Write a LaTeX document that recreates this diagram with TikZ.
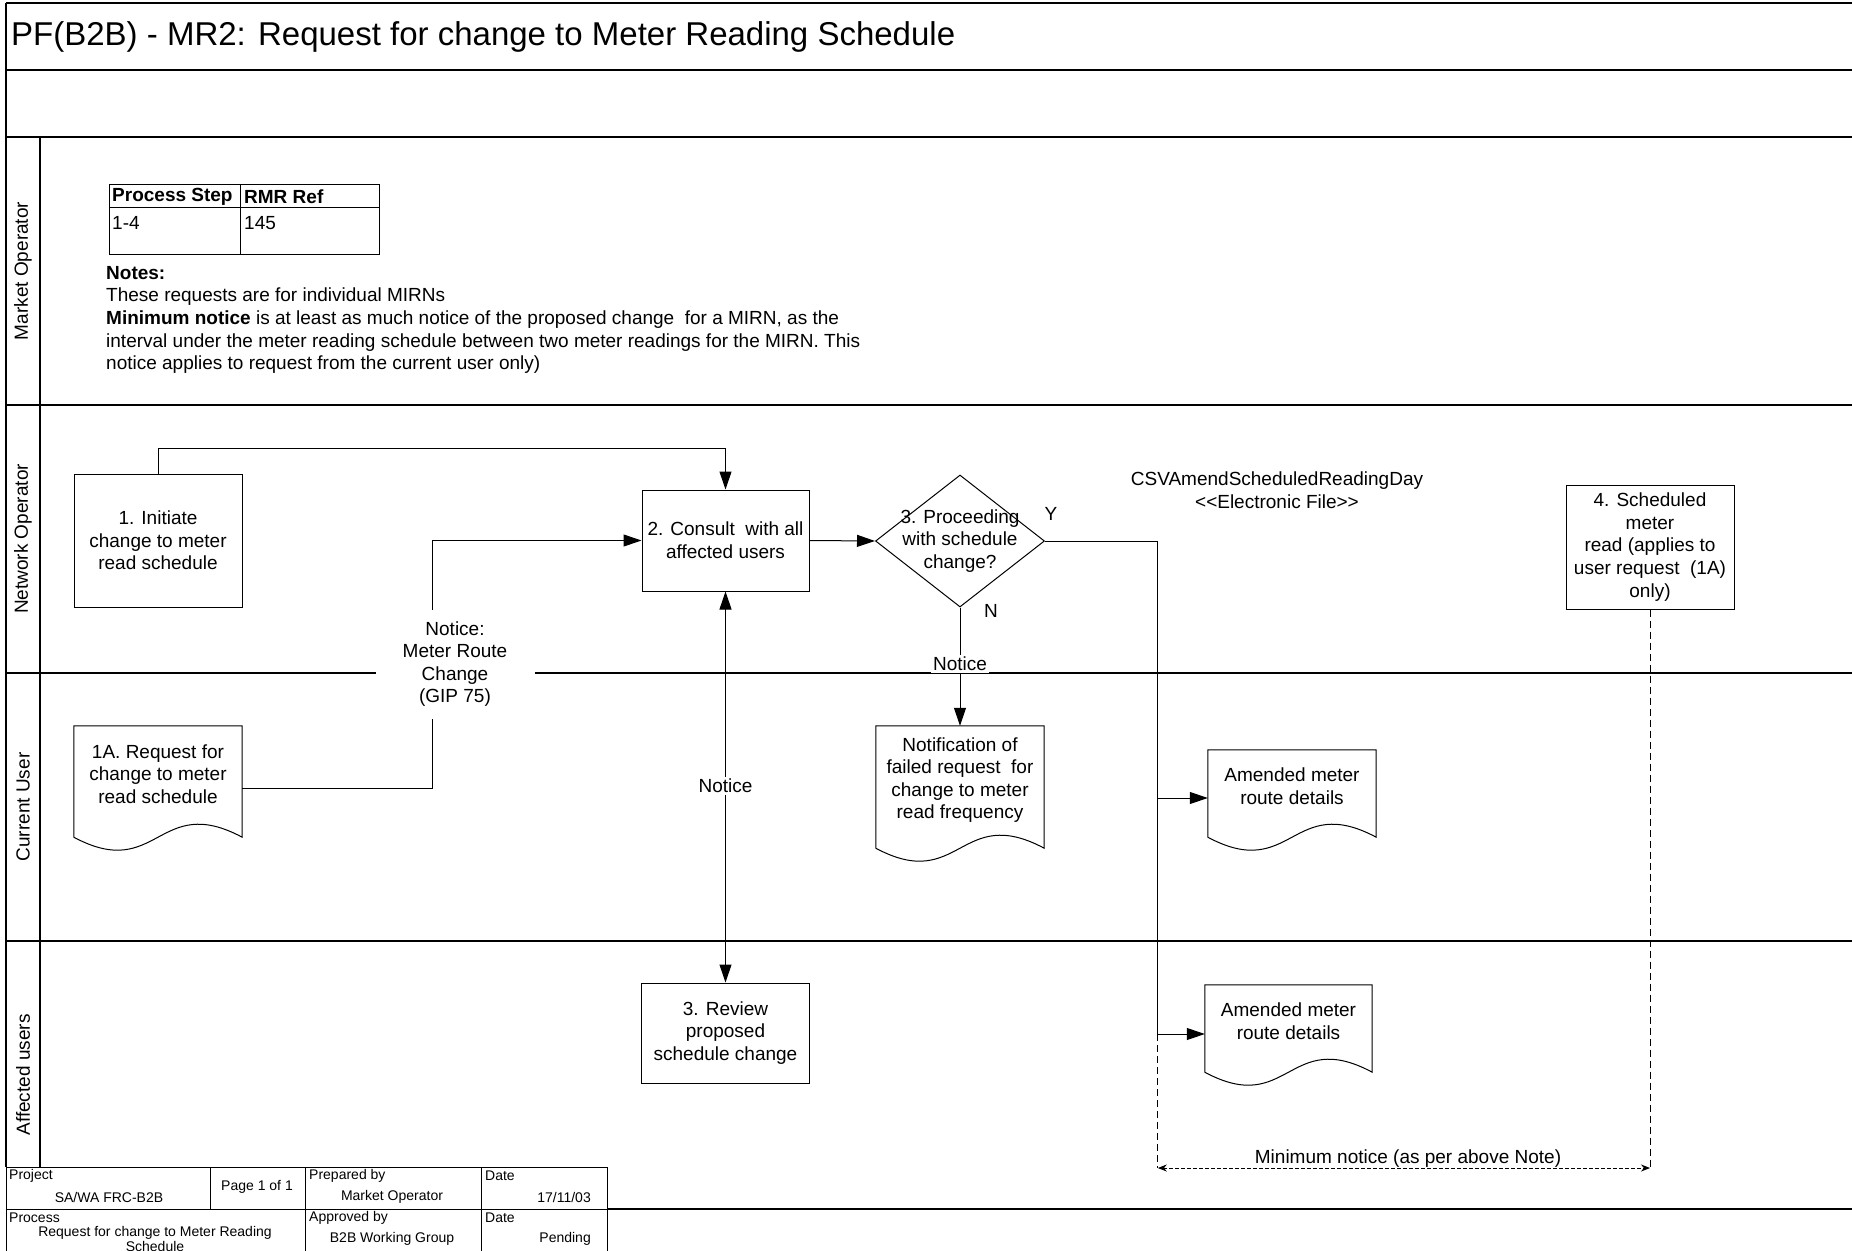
\documentclass[tikz,border=0pt]{standalone}
\usepackage{fontspec}
\setmainfont{Liberation Sans}
\usetikzlibrary{arrows.meta,calc,shapes.geometric}
\newcommand\myBody{\fontsize{19}{22.6}\selectfont}
\newcommand\myTitle{\fontsize{33}{38}\selectfont}
\newcommand\myFoot{\fontsize{14}{15.5}\selectfont}
\newcommand\docout[2]{\draw[shp] (#1.north west) -- (#1.north east) -- ($(#1.south east)+(0,#2)$) .. controls ($(#1.south)+(0,#2-45)$) and ($(#1.south)+(0,#2+45)$) .. ($(#1.south west)+(0,#2)$) -- cycle;}
\begin{document}
\begin{tikzpicture}[x=1pt,y=-1pt,
  >={Triangle[length=18pt,width=12pt]},
  lane/.style={line width=1.8pt},
  shp/.style={line width=1pt},
  conn/.style={line width=1pt},
  arr/.style={conn,->},
  box/.style={draw, shp, rectangle, align=center, inner sep=2pt, font=\myBody},
  lbl/.style={align=center, font=\myBody, inner sep=1pt},
  doc/.style={rectangle, align=center, font=\myBody, inner sep=2pt},
  ext/.style={line width=0.8pt, dash pattern=on 7pt off 4pt},
  dim/.style={line width=1pt, dash pattern=on 4pt off 2pt, {Stealth[length=9pt,width=7pt]}-{Stealth[length=9pt,width=7pt]}},
  foot/.style={font=\myFoot, inner sep=1pt},
  lanelbl/.style={rotate=90, font=\myBody, inner sep=1pt}
]
\useasboundingbox (0,0) rectangle (1852,1250);
\fill[white] (0,0) rectangle (1852,1250);

% frame and swimlanes
\draw[lane] (6,3) -- (1852,3);
\draw[lane] (6,70) -- (1852,70);
\draw[lane] (6,137) -- (1852,137);
\draw[lane] (6,3) -- (6,1167);
\draw[lane] (40,137) -- (40,1167);
\draw[lane] (6,405) -- (1852,405);
\draw[lane] (6,673) -- (1852,673);
\draw[lane] (6,941) -- (1852,941);
\draw[lane] (6,1209) -- (1852,1209);

\node[anchor=west, font=\myTitle, inner sep=0] (title) at (11,37) {PF(B2B) - MR2: Request for change to Meter Reading Schedule};

\node[lanelbl] (laneMO) at (23,271) {Market Operator};
\node[lanelbl] (laneNO) at (23,539) {Network Operator};
\node[lanelbl] (laneCU) at (23,807) {Current User};
\node[lanelbl] (laneAU) at (23,1075) {Affected users};

% reference table
\draw[shp] (109,184) rectangle (379,254);
\draw[shp] (109,207) -- (379,207);
\draw[shp] (240,184) -- (240,254);
\node[anchor=west, font=\myBody\bfseries, inner sep=0] (th1) at (112,197) {Process Step};
\node[anchor=west, font=\myBody\bfseries, inner sep=0] (th2) at (244,197) {RMR Ref};
\node[anchor=west, font=\myBody, inner sep=0] (td1) at (112,223) {1-4};
\node[anchor=west, font=\myBody, inner sep=0] (td2) at (244,223) {145};

\node[anchor=north west, align=left, font=\myBody, inner sep=0] (notes) at (106,266) {\textbf{Notes:}\\These requests are for individual MIRNs\\\textbf{Minimum notice} is at least as much notice of the proposed change\ \ for a MIRN, as the\\interval under the meter reading schedule between two meter readings for the MIRN. This\\notice applies to request from the current user only)};

% process shapes
\node[box, minimum width=168, minimum height=133] (s1) at (158,540.5) {1. Initiate\\change to meter\\read schedule};
\node[box, minimum width=167, minimum height=101] (s2) at (725.5,540.5) {2. Consult\ \ with all\\affected users};
\node[draw, shp, diamond, minimum width=169, minimum height=132, inner sep=0] (dec) at (960,541) {};
\node[box, minimum width=168, minimum height=124] (s4) at (1650,547) {4. Scheduled\\meter\\read (applies to\\user request\ \ (1A)\\only)};
\node[box, minimum width=168, minimum height=100] (s3) at (725.5,1033) {3. Review\\proposed\\schedule change};

\node[doc, minimum width=168, minimum height=96] (d1A) at (158,774) {1A. Request for\\change to meter\\read schedule};
\docout{d1A}{15}
\node[doc, minimum width=168, minimum height=108] (docN) at (960,780) {Notification of\\failed request\ \ for\\change to meter\\read frequency};
\docout{docN}{14}
\node[doc, minimum width=168, minimum height=72] (dAm1) at (1292,786) {Amended meter\\route details};
\docout{dAm1}{15}
\node[doc, minimum width=167, minimum height=72] (dAm2) at (1288.5,1021) {Amended meter\\route details};
\docout{dAm2}{15}

% connectors
\draw[arr] (s1.north) -- ++(0,-25) -| (s2.north);
\draw[arr] ($(d1A.east)+(0,14)$) -| ($(s2.west)+(-209,0)$) -- (s2.west);
\draw[arr] (s2.east) -- (dec.west);
\coordinate (a1) at ($(dAm1.west)+(0,12)$);
\coordinate (a2) at ($(dAm2.west)+(0,13)$);
\coordinate (ybot) at ($(a2)+(-47,0)$);
\draw[conn] (dec.east) -| (ybot);
\draw[arr] ($(a1)+(-50,0)$) -- (a1);
\draw[arr] (ybot) -- (a2);
\draw[arr] (dec.south) -- (docN.north);
\draw[conn,<->] (s2.south) -- (s3.north);
\coordinate (dimL) at ($(ybot)+(0,134)$);
\coordinate (dimR) at (s4.south |- dimL);
\draw[ext] (ybot) -- (dimL);
\draw[ext] (s4.south) -- (dimR);
\draw[dim] (dimL) -- (dimR);

% labels
\node[lbl] (dect) at (960,541) {3. Proceeding\\with schedule\\change?};
\node[lbl] (ylab) at (1051,514) {Y};
\node[lbl] (nlab) at (991,611) {N};
\node[lbl] (csv) at (1277,490) {CSVAmendScheduledReadingDay\\<{}<Electronic File>{}>};
\node[lbl, fill=white, minimum width=159, minimum height=109] (nmr) at (455,664) {Notice:\\Meter Route\\Change\\(GIP 75)};
\node[lbl, fill=white, inner sep=2pt] (nN) at (960,664) {Notice};
\node[lbl, fill=white, inner sep=2pt] (nRv) at (725.5,786) {Notice};
\node[font=\myBody, anchor=base, inner sep=0] (mn) at (1408,1163) {Minimum notice (as per above Note)};

% footer
\draw[shp, fill=white] (6,1167) rectangle (607,1262);
\draw[shp] (6,1209) -- (607,1209);
\draw[shp] (210,1167) -- (210,1209);
\draw[shp] (305,1167) -- (305,1262);
\draw[shp] (481,1167) -- (481,1262);
\node[foot, anchor=west] (fp) at (8,1176) {Project};
\node[foot] (fpv) at (109,1197) {SA/WA FRC-B2B};
\node[foot] (fpg) at (257,1187) {Page 1 of 1};
\node[foot, anchor=west] (fpr) at (308,1176) {Prepared by};
\node[foot] (fprv) at (392,1197) {Market Operator};
\node[foot, anchor=west] (fd1) at (484,1176) {Date};
\node[foot, anchor=east] (fd1v) at (592,1197) {17/11/03};
\node[foot, anchor=west] (fpc) at (8,1218) {Process};
\node[foot, align=center] (fpcv) at (155,1239) {Request for change to Meter Reading\\Schedule};
\node[foot, anchor=west] (fap) at (308,1218) {Approved by};
\node[foot] (fapv) at (392,1239) {B2B Working Group};
\node[foot, anchor=west] (fd2) at (484,1218) {Date};
\node[foot, anchor=east] (fd2v) at (592,1239) {Pending};
\end{tikzpicture}
\end{document}
